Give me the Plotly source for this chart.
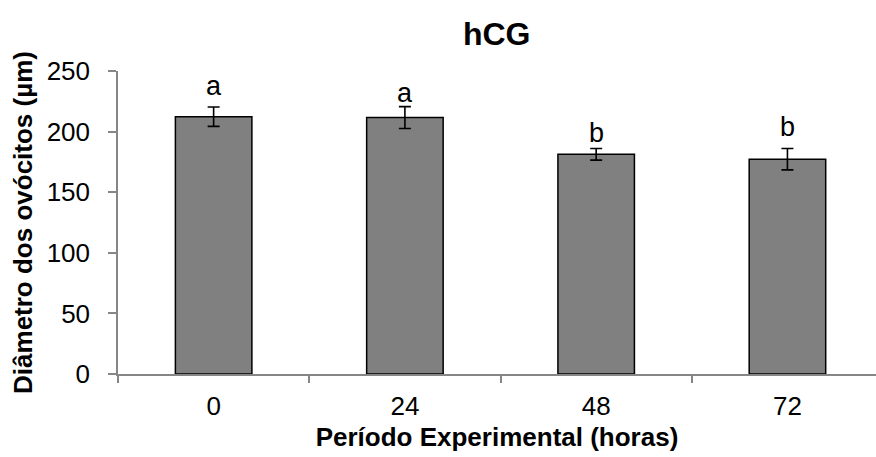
import plotly.graph_objects as go

# Oocyte diameter by experimental period (hCG treatment)
periods = ["0", "24", "48", "72"]
diameter_mean = [212.3, 211.6, 181.3, 177.2]
diameter_err = [8.0, 9.0, 4.8, 8.8]
letters = ["a", "a", "b", "b"]
letter_y = [230.0, 224.7, 191.7, 196.4]

y_ticks = [0, 50, 100, 150, 200, 250]

FONT = "Liberation Sans, Arial, sans-serif"
AXIS_GREY = "#868686"

fig = go.Figure()
fig.add_trace(go.Bar(
    x=periods,
    y=diameter_mean,
    width=0.4,
    marker=dict(color="#808080", line=dict(color="#000000", width=1.5)),
    error_y=dict(type="data", array=diameter_err, visible=True,
                 color="#000000", thickness=1.6, width=6),
    showlegend=False,
))

# significance letters above each bar (category index on the x axis)
for i, (lab, yb) in enumerate(zip(letters, letter_y)):
    fig.add_annotation(
        x=i, y=yb, text=lab, showarrow=False,
        xanchor="center", yanchor="bottom", yshift=-8,
        font=dict(family=FONT, size=27, color="#000000"),
    )

fig.update_layout(
    width=876, height=457,
    margin=dict(l=118, r=0, t=71, b=83),
    plot_bgcolor="#ffffff", paper_bgcolor="#ffffff",
    font=dict(family=FONT, color="#000000"),
    title=dict(text="<b>hCG</b>", x=0.567, xanchor="center",
               y=0.925, yanchor="middle",
               font=dict(family=FONT, size=32, color="#000000")),
    bargap=0.6,
)

fig.update_xaxes(
    type="category",
    range=[-0.5, 3.463],
    showline=True, linecolor=AXIS_GREY, linewidth=1.5,
    ticks="outside", tickson="boundaries", ticklen=7,
    tickcolor=AXIS_GREY, tickwidth=1.5,
    tickfont=dict(family=FONT, size=26, color="#000000"),
    ticklabelstandoff=8,
    showgrid=False, zeroline=False,
    title=dict(text="<b>Período Experimental (horas)</b>",
               font=dict(family=FONT, size=26, color="#000000"),
               standoff=8),
)

fig.update_yaxes(
    range=[0, 250],
    tickvals=y_ticks,
    showline=True, linecolor=AXIS_GREY, linewidth=1.5,
    ticks="outside", ticklen=8, tickcolor=AXIS_GREY, tickwidth=1.5,
    tickfont=dict(family=FONT, size=26, color="#000000"),
    ticklabelstandoff=13,
    showgrid=False, zeroline=False,
    title=dict(text="<b>Diâmetro dos ovócitos (µm)</b>",
               font=dict(family=FONT, size=26, color="#000000"),
               standoff=7),
)

fig.write_html("out.html")
